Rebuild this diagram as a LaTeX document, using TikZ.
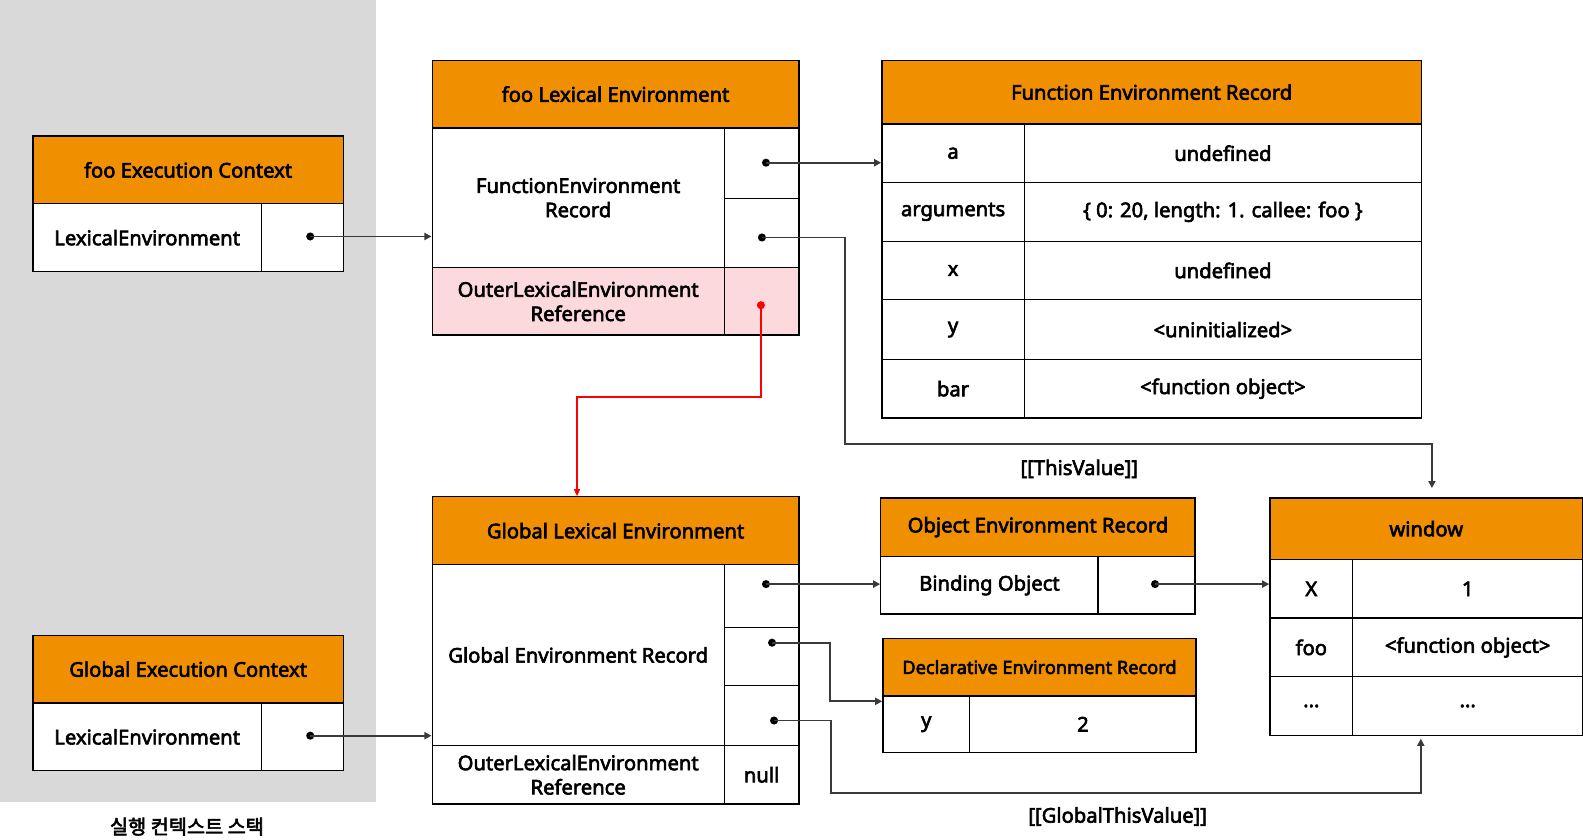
\documentclass[tikz,border=0pt]{standalone}
\usepackage{fontspec}
\setmainfont{Noto Sans}[FakeBold=3]
\newfontfamily\krfont{Noto Sans CJK KR}[FakeBold=3]
\usetikzlibrary{arrows.meta}
\definecolor{hdrorange}{HTML}{F09000}
\definecolor{pinkrow}{HTML}{FBD9DC}
\definecolor{stackgray}{HTML}{D9D9D9}
\definecolor{linegray}{HTML}{3A3A3A}
\newcommand{\fs}{\fontsize{20}{24}\selectfont}
\tikzset{
  box/.style={draw=black, line width=1.3pt, inner sep=0pt, anchor=north west, align=center, font=\fs},
  hdr/.style={box, fill=hdrorange},
  cell/.style={box, fill=white},
  pcell/.style={box, fill=pinkrow},
  conn/.style={draw=linegray, line width=1.9pt, -{Triangle[length=7pt,width=7pt]}},
  rconn/.style={draw=red, line width=1.3pt, -{Triangle[length=7pt,width=6pt]}},
  dotc/.style={fill=black, circle, inner sep=0pt, minimum size=8pt},
  rdotc/.style={fill=red, circle, inner sep=0pt, minimum size=8pt},
  lbl/.style={font=\fs, inner sep=0pt}
}
\begin{document}
\begin{tikzpicture}[x=1pt,y=-1pt]
\useasboundingbox (0,0) rectangle (1566.5,830.3);
% stack background
\fill[stackgray] (0,0) rectangle (372,794);
\node[lbl, font=\krfont\fontsize{19.5}{24}\selectfont] (stacklbl) at (185,818) {실행 컨텍스트 스택};

% foo Execution Context
\node[hdr, minimum width=307pt, minimum height=67pt] (fecH) at (32,134) {foo Execution Context};
\node[cell, minimum width=226pt, minimum height=67pt] (fecL) at (32,201) {LexicalEnvironment};
\node[cell, minimum width=81pt, minimum height=67pt] (fecV) at (258,201) {};
\node[dotc] (fecD) at (307,234) {};

% Global Execution Context
\node[hdr, minimum width=307pt, minimum height=67pt] (gecH) at (32,628) {Global Execution Context};
\node[cell, minimum width=226pt, minimum height=67pt] (gecL) at (32,695) {LexicalEnvironment};
\node[cell, minimum width=81pt, minimum height=67pt] (gecV) at (258,695) {};
\node[dotc] (gecD) at (307,728) {};

% foo Lexical Environment
\node[hdr, minimum width=363pt, minimum height=67pt] (fleH) at (427,59) {foo Lexical Environment};
\node[cell, minimum width=289pt, minimum height=138pt] (fleR) at (427,126) {FunctionEnvironment\\Record};
\node[cell, minimum width=74pt, minimum height=70pt] (fleV1) at (716,126) {};
\node[cell, minimum width=74pt, minimum height=68pt] (fleV2) at (716,196) {};
\node[pcell, minimum width=289pt, minimum height=67pt] (fleO) at (427,264) {OuterLexicalEnvironment\\Reference};
\node[pcell, minimum width=74pt, minimum height=67pt] (fleOV) at (716,264) {};
\node[dotc] (fleD1) at (758,161) {};
\node[dotc] (fleD2) at (754,235) {};
\node[rdotc] (fleD3) at (753,302) {};

% Function Environment Record
\node[hdr, minimum width=534pt, minimum height=63pt] (ferH) at (872,59) {Function Environment Record};
\node[cell, minimum width=141pt, minimum height=58pt] (ferK1) at (872,122) {a};
\node[cell, minimum width=393pt, minimum height=58pt] (ferV1) at (1013,122) {undefined};
\node[cell, minimum width=141pt, minimum height=58pt] (ferK2) at (872,180) {arguments};
\node[cell, minimum width=393pt, minimum height=58pt] (ferV2) at (1013,180) {\{ 0: 20, length: 1. callee: foo \}};
\node[cell, minimum width=141pt, minimum height=58pt] (ferK3) at (872,238) {x};
\node[cell, minimum width=393pt, minimum height=58pt] (ferV3) at (1013,238) {undefined};
\node[cell, minimum width=141pt, minimum height=59pt] (ferK4) at (872,296) {y};
\node[cell, minimum width=393pt, minimum height=59pt] (ferV4) at (1013,296) {<uninitialized>};
\node[cell, minimum width=141pt, minimum height=58pt] (ferK5) at (872,355) {bar};
\node[cell, minimum width=393pt, minimum height=58pt] (ferV5) at (1013,355) {<function object>};

% Global Lexical Environment
\node[hdr, minimum width=363pt, minimum height=67pt] (gleH) at (427,491) {Global Lexical Environment};
\node[cell, minimum width=289pt, minimum height=179pt] (gleR) at (427,558) {Global Environment Record};
\node[cell, minimum width=74pt, minimum height=62pt] (gleV1) at (716,558) {};
\node[cell, minimum width=74pt, minimum height=58pt] (gleV2) at (716,620) {};
\node[cell, minimum width=74pt, minimum height=59pt] (gleV3) at (716,678) {};
\node[cell, minimum width=289pt, minimum height=58pt] (gleO) at (427,737) {OuterLexicalEnvironment\\Reference};
\node[cell, minimum width=74pt, minimum height=58pt] (gleOV) at (716,737) {null};
\node[dotc] (gleD1) at (758,578) {};
\node[dotc] (gleD2) at (764,636) {};
\node[dotc] (gleD3) at (766,713) {};

% Object Environment Record
\node[hdr, minimum width=311pt, minimum height=58pt] (oerH) at (871,492) {Object Environment Record};
\node[cell, minimum width=215pt, minimum height=57pt] (oerK) at (871,550) {Binding Object};
\node[cell, minimum width=96pt, minimum height=57pt] (oerV) at (1086,550) {};
\node[dotc] (oerD) at (1143,578) {};

% Declarative Environment Record
\node[hdr, minimum width=310pt, minimum height=57pt, font=\fontsize{18}{20}\selectfont] (derH) at (873,631) {Declarative Environment Record};
\node[cell, minimum width=86pt, minimum height=56pt] (derK) at (873,688) {y};
\node[cell, minimum width=224pt, minimum height=56pt] (derV) at (959,688) {2};

% window
\node[hdr, minimum width=309.5pt, minimum height=61pt] (winH) at (1256,492) {window};
\node[cell, minimum width=82pt, minimum height=58pt] (winK1) at (1256,553) {X};
\node[cell, minimum width=227.5pt, minimum height=58pt] (winV1) at (1338,553) {1};
\node[cell, minimum width=82pt, minimum height=58pt] (winK2) at (1256,611) {foo};
\node[cell, minimum width=227.5pt, minimum height=58pt] (winV2) at (1338,611) {<function object>};
\node[cell, minimum width=82pt, minimum height=58pt] (winK3) at (1256,669) {...};
\node[cell, minimum width=227.5pt, minimum height=58pt] (winV3) at (1338,669) {...};

% connectors
\draw[conn] (fecD.center) -- (fecD.center -| fleR.west);
\draw[conn] (gecD.center) -- (gecD.center -| gleR.west);
\draw[conn] (fleD1.center) -- (fleD1.center -| ferK1.west);
\draw[conn] (fleD2.center) -- (836,235) -- (836,439) -- (1417,439) -- (1417,483);
\node[lbl] (thisv) at (1068,464) {[[ThisValue]]};
\draw[rconn] (fleD3.center) -- (753,393) -- (571,393) -- (571,491);
\draw[conn] (gleD1.center) -- (gleD1.center -| oerK.west);
\draw[conn] (gleD2.center) -- (821,636) -- (821,694) -- (derK.west |- 0,694);
\draw[conn] (gleD3.center) -- (822,713) -- (822,785) -- (1406,785) -- (1406,731);
\node[lbl] (gthisv) at (1106,808) {[[GlobalThisValue]]};
\draw[conn] (oerD.center) -- (oerD.center -| winK1.west);
\end{tikzpicture}
\end{document}
